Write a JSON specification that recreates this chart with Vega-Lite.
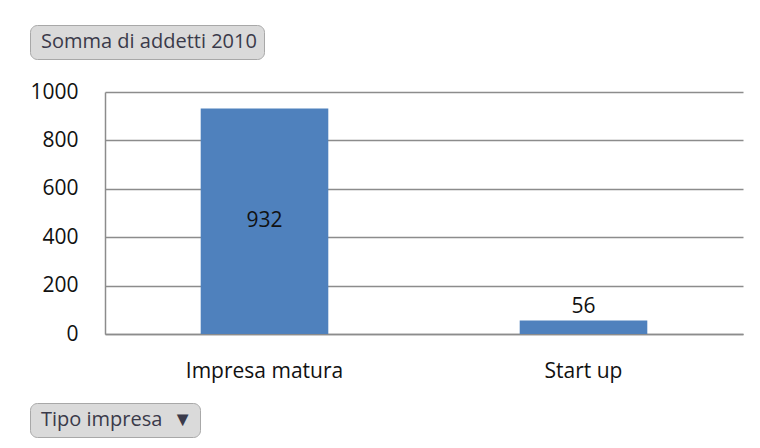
{
  "$schema": "https://vega.github.io/schema/vega-lite/v6.json",
  "width": 638,
  "height": 242,
  "autosize": {"type": "none"},
  "padding": {"left": 105, "top": 92, "right": 17, "bottom": 114},
  "background": "white",
  "data": {"values": [
    {"tipo": "Impresa matura", "addetti": 932},
    {"tipo": "Start up", "addetti": 56}
  ]},
  "encoding": {
    "x": {"field": "tipo", "type": "nominal", "sort": null,
      "scale": {"paddingInner": 0.6, "paddingOuter": 0.3},
      "axis": {"title": null, "labelAngle": 0, "ticks": false, "tickSize": 0, "labelPadding": 26,
        "domainColor": "#8c8c8c", "domainWidth": 1.5, "labelFontSize": 21, "labelFont": "Open Sans", "labelColor": "#111"}}
  },
  "layer": [
    {
      "mark": {"type": "bar"},
      "encoding": {
        "y": {"field": "addetti", "type": "quantitative",
          "scale": {"domain": [0, 1000], "nice": false},
          "axis": {"title": null, "values": [0, 200, 400, 600, 800, 1000], "format": "d", "ticks": false, "tickSize": 0, "labelPadding": 27,
            "grid": true, "gridColor": "#8c8c8c", "gridWidth": 1.5, "domainColor": "#8c8c8c", "domainWidth": 1.5,
            "labelFontSize": 21, "labelFont": "Open Sans", "labelColor": "#111"}},
        "color": {"datum": "Somma di addetti 2010", "type": "nominal",
          "scale": {"range": ["#4f81bd"]},
          "legend": {"orient": "none", "legendX": -75, "legendY": -67, "title": null,
            "fillColor": "#dadada", "strokeColor": "#a8a8a8", "cornerRadius": 7, "padding": 7,
            "symbolSize": 0, "symbolStrokeWidth": 0, "symbolOpacity": 0, "labelOffset": -16,
            "labelFont": "Open Sans", "labelFontSize": 20, "labelColor": "#3a3a4a", "labelLimit": 400}},
        "opacity": {"datum": "Tipo impresa\u00a0\u00a0▼", "type": "ordinal",
          "scale": {"range": [1]},
          "legend": {"orient": "none", "legendX": -75, "legendY": 311, "title": null,
            "fillColor": "#dadada", "strokeColor": "#a8a8a8", "cornerRadius": 7, "padding": 7,
            "symbolSize": 0, "symbolStrokeWidth": 0, "symbolOpacity": 0, "labelOffset": -16,
            "labelFont": "Open Sans", "labelFontSize": 20, "labelColor": "#3a3a4a", "labelLimit": 400}}
      }
    },
    {
      "transform": [{"filter": "datum.addetti >= 100"}],
      "mark": {"type": "text", "font": "Open Sans", "fontSize": 21, "color": "#111", "baseline": "middle"},
      "encoding": {
        "y": {"field": "addetti", "type": "quantitative", "scale": {"domain": [0, 2000], "nice": false}, "axis": null},
        "text": {"field": "addetti", "type": "quantitative"}
      }
    },
    {
      "transform": [{"filter": "datum.addetti < 100"}],
      "mark": {"type": "text", "font": "Open Sans", "fontSize": 21, "color": "#111", "baseline": "bottom", "dy": -3},
      "encoding": {
        "y": {"field": "addetti", "type": "quantitative", "scale": {"domain": [0, 1000], "nice": false}, "axis": null},
        "text": {"field": "addetti", "type": "quantitative"}
      }
    }
  ],
  "resolve": {"scale": {"y": "independent"}},
  "config": {"view": {"stroke": null}}
}
